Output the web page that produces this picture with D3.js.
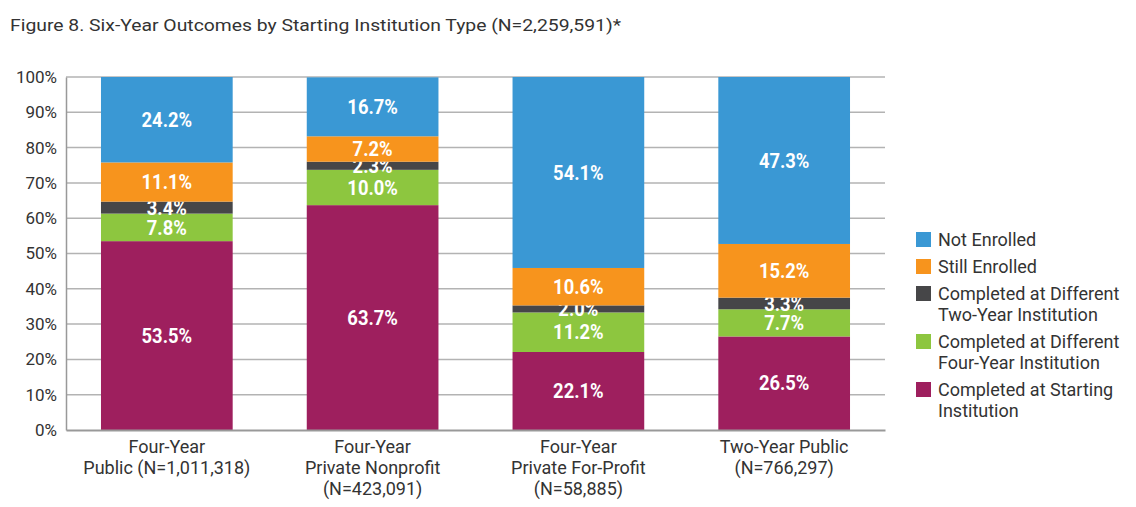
<!DOCTYPE html>
<html lang="en">
<head>
  <meta charset="UTF-8">
  <title>Six-Year Outcomes by Starting Institution Type</title>
  <script src="https://d3js.org/d3.v7.min.js"></script>
  <style>
    body {
      margin: 0;
      background: #fff;
    }
    svg text {
      font-family: 'Roboto', 'Liberation Sans', sans-serif;
    }
    .title {
      font-size: 17px;
      fill: #333;
    }
    .axis text {
      font-size: 17px;
      fill: #333;
    }
    .axis text.x-label {
      font-size: 18px;
    }
    .bar-label {
      font-size: 20px;
      font-weight: bold;
      fill: #fff;
    }
    .legend text {
      font-size: 18px;
      fill: #333;
    }
  </style>
</head>
<body>
<svg width="1136" height="507"></svg>

<script>
  // Data
  const categories = [
    ["Four-Year", "Public (N=1,011,318)"],
    ["Four-Year", "Private Nonprofit", "(N=423,091)"],
    ["Four-Year", "Private For-Profit", "(N=58,885)"],
    ["Two-Year Public", "(N=766,297)"]
  ];
  const seriesNames = [
    "Completed at Starting Institution",
    "Completed at Different Four-Year Institution",
    "Completed at Different Two-Year Institution",
    "Still Enrolled",
    "Not Enrolled"
  ];
  const completedStarting = [53.5, 63.7, 22.1, 26.5];
  const completedFourYear = [7.8, 10.0, 11.2, 7.7];
  const completedTwoYear = [3.4, 2.3, 2.0, 3.3];
  const stillEnrolled = [11.1, 7.2, 10.6, 15.2];
  const notEnrolled = [24.2, 16.7, 54.1, 47.3];
  const yTicks = [0, 10, 20, 30, 40, 50, 60, 70, 80, 90, 100];

  const colors = ["#9e1f5e", "#8dc63f", "#464648", "#f7941d", "#3a98d4"];
  const legendLines = [
    ["Not Enrolled"],
    ["Still Enrolled"],
    ["Completed at Different", "Two-Year Institution"],
    ["Completed at Different", "Four-Year Institution"],
    ["Completed at Starting", "Institution"]
  ];

  const margin = {top: 77, right: 251, bottom: 77, left: 66},
        width = 1136 - margin.left - margin.right,
        height = 507 - margin.top - margin.bottom;

  const svg = d3.select("svg");

  svg.append("text")
    .attr("class", "title")
    .attr("x", 10)
    .attr("y", 31)
    .attr("textLength", 611)
    .attr("lengthAdjust", "spacingAndGlyphs")
    .text("Figure 8. Six-Year Outcomes by Starting Institution Type (N=2,259,591)*");

  const g = svg.append("g")
    .attr("transform", `translate(${margin.left},${margin.top})`);

  const keys = seriesNames.map((d, i) => i);
  const values = [completedStarting, completedFourYear, completedTwoYear, stillEnrolled, notEnrolled];
  const table = categories.map((c, j) => {
    const row = {idx: j};
    keys.forEach(k => row[k] = values[k][j]);
    return row;
  });
  const stacked = d3.stack().keys(keys)(table);

  const x = d3.scaleBand()
    .domain(d3.range(categories.length))
    .range([0, width])
    .paddingInner(0.36)
    .paddingOuter(0.17);

  const y = d3.scaleLinear()
    .domain([0, 100])
    .range([height, 0]);

  // gridlines
  g.append("g")
    .selectAll("line")
    .data(yTicks.filter(t => t > 0))
    .enter()
    .append("line")
    .attr("x1", 0)
    .attr("x2", width)
    .attr("y1", d => y(d))
    .attr("y2", d => y(d))
    .attr("stroke", "#b3b3b3")
    .attr("stroke-width", 1.5);

  // bars
  const layers = g.selectAll(".layer")
    .data(stacked)
    .enter()
    .append("g")
    .attr("fill", d => colors[d.key]);

  layers.selectAll("rect")
    .data(d => d)
    .enter()
    .append("rect")
    .attr("x", d => x(d.data.idx))
    .attr("y", d => y(d[1]))
    .attr("width", x.bandwidth())
    .attr("height", d => y(d[0]) - y(d[1]));

  // narrow the labels a little to get the condensed look of the original
  layers.selectAll("text")
    .data(d => d.map(v => ({v: v, key: d.key})))
    .enter()
    .append("text")
    .attr("class", "bar-label")
    .attr("transform", d => `translate(${x(d.v.data.idx) + x.bandwidth() / 2},${y((d.v[0] + d.v[1]) / 2)}) scale(0.92,1)`)
    .attr("dy", "0.36em")
    .attr("text-anchor", "middle")
    .text(d => d3.format(".1f")(d.v.data[d.key]) + "%");

  // y axis
  const yAxis = g.append("g")
    .attr("class", "axis")
    .call(d3.axisLeft(y).tickValues(yTicks).tickFormat(d => d + "%").tickSize(0).tickPadding(9));
  yAxis.select(".domain").attr("stroke", "#999").attr("stroke-width", 1.5);

  // x axis
  const xAxis = g.append("g")
    .attr("class", "axis")
    .attr("transform", `translate(0,${height})`)
    .call(d3.axisBottom(x).tickSize(0).tickFormat(""));
  xAxis.select(".domain").attr("stroke", "#999").attr("stroke-width", 2);

  xAxis.selectAll(".tick")
    .append("text")
    .attr("class", "x-label")
    .attr("fill", "#333")
    .attr("text-anchor", "middle")
    .selectAll("tspan")
    .data(d => categories[d])
    .enter()
    .append("tspan")
    .attr("x", 0)
    .attr("y", (d, i) => 23 + i * 21)
    .text(d => d);

  // legend
  const legend = svg.append("g")
    .attr("class", "legend")
    .attr("transform", "translate(916,232)");

  let yOff = 0;
  legendLines.forEach((lines, i) => {
    const item = legend.append("g").attr("transform", `translate(0,${yOff})`);
    item.append("rect")
      .attr("width", 15)
      .attr("height", 15)
      .attr("fill", colors[colors.length - 1 - i]);
    item.append("text")
      .selectAll("tspan")
      .data(lines)
      .enter()
      .append("tspan")
      .attr("x", 22)
      .attr("y", (d, k) => 14 + k * 21)
      .text(d => d);
    yOff += 27 + (lines.length - 1) * 21;
  });
</script>
</body>
</html>
